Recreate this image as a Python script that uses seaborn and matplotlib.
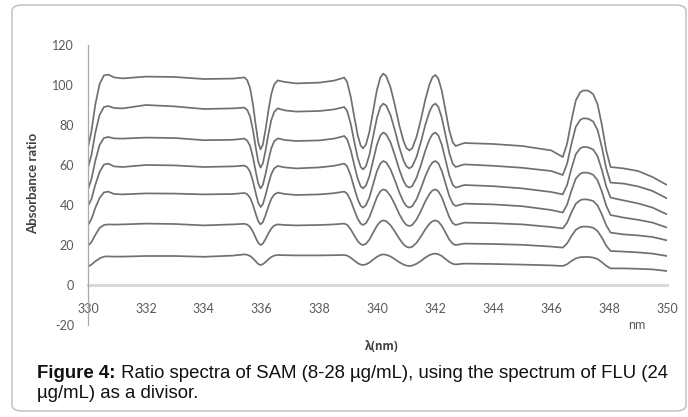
import numpy as np
import pandas as pd
import seaborn as sns
import matplotlib
matplotlib.use("Agg")
import matplotlib.pyplot as plt
from matplotlib.patches import FancyBboxPatch

# ---------------- data ----------------
wavelength = [
    330.0, 330.12, 330.25, 330.4, 330.55, 330.7, 330.9, 331.2, 332.0, 333.0, 334.0, 335.0, 335.4,
    335.5, 335.6, 335.7, 335.8, 335.88, 335.96, 336.04, 336.13, 336.23, 336.33, 336.43, 336.55,
    336.8, 337.2, 338.0, 338.5, 338.85,
    338.95, 339.08, 339.2, 339.32, 339.42, 339.5,
    339.6, 339.72, 339.85, 339.98, 340.1, 340.2,
    340.3, 340.45, 340.6, 340.75, 340.9, 341.0, 341.1,
    341.2, 341.35, 341.5, 341.65, 341.8, 341.9, 342.0,
    342.1, 342.22, 342.35, 342.48, 342.6, 342.7,
    343.0, 344.0, 345.0, 346.0, 346.4,
    346.55, 346.7, 346.85, 347.0, 347.1, 347.2, 347.3, 347.45, 347.6, 347.75, 347.9, 348.05,
    348.5, 349.0, 349.5, 350.0,
]

sam_28 = [
    68.7, 77, 90, 100.5, 104.8, 105.2, 103.8, 103.3, 104.2, 104.0, 103.0, 103.2, 103.8,
    102.4, 98.4, 90.1, 79.3, 71.4, 67.8, 70.2, 77.5, 87.1, 95.4, 100.2, 102.3,
    101.5, 100.8, 101.2, 102.2, 103.7,
    101.6, 93.8, 83.9, 74.7, 69.7, 68.3,
    70.2, 76.5, 87.0, 97.5, 103.8, 105.7,
    104.5, 98.8, 90.0, 80.0, 71.9, 68.5, 67.3,
    68.4, 74.1, 82.8, 92.6, 100.5, 103.9, 105.0,
    103.2, 97.2, 87.2, 77.3, 71.3, 69.5,
    71.0, 70.5, 69.5, 67.3, 64.0,
    70.7, 82.3, 92.3, 96.3, 97.2, 97.3, 97.0, 95.4, 90.4, 80.1, 67.4, 59.0,
    58.3, 57.0, 54.0, 50.0,
]
sam_25 = [
    58.7, 65, 76, 85, 89, 89.5, 88.5, 88.3, 90.0, 89.3, 88.0, 88.3, 88.7,
    87.5, 84.2, 77.3, 68.3, 61.7, 58.7, 60.8, 67.0, 75.3, 82.4, 86.5, 88.3,
    87.3, 86.7, 87.0, 87.8, 89.0,
    87.1, 80.3, 71.5, 63.4, 59.0, 57.8,
    59.4, 65.0, 74.3, 83.5, 89.1, 90.7,
    89.7, 84.9, 77.4, 69.0, 62.2, 59.3, 58.3,
    59.3, 64.1, 71.6, 80.0, 86.8, 89.7, 90.7,
    89.1, 83.7, 74.9, 66.0, 60.6, 59.0,
    60.3, 59.6, 58.6, 57.0, 55.0,
    60.7, 70.6, 79.1, 82.5, 83.3, 83.3, 83.0, 81.7, 77.6, 68.9, 58.3, 51.2,
    50.7, 49.3, 47.0, 43.3,
]
sam_21 = [
    47.8, 53, 62, 70, 73.5, 74.0, 73.3, 73.2, 73.7, 73.5, 72.4, 72.6, 73.2,
    72.2, 69.5, 63.7, 56.3, 50.8, 48.3, 50.1, 55.3, 62.3, 68.3, 71.8, 73.3,
    72.5, 72.0, 72.3, 73.2, 74.5,
    72.9, 67.2, 59.8, 53.0, 49.3, 48.3,
    49.7, 54.4, 62.3, 70.1, 74.8, 76.2,
    75.4, 71.3, 64.9, 57.8, 52.0, 49.5, 48.7,
    49.5, 53.7, 60.0, 67.1, 72.9, 75.4, 76.2,
    74.8, 70.2, 62.5, 54.8, 50.1, 48.7,
    50.0, 49.4, 48.3, 46.5, 45.3,
    50.0, 58.3, 65.4, 68.3, 69.0, 69.0, 68.7, 67.7, 64.4, 57.6, 49.3, 43.7,
    42.3, 40.8, 38.7, 35.3,
]
sam_18 = [
    39.5, 43, 50, 56.5, 60.2, 60.7, 59.3, 59.0, 60.0, 59.8, 59.0, 59.3, 59.7,
    58.9, 56.6, 51.8, 45.6, 41.1, 39.0, 40.4, 44.7, 50.5, 55.4, 58.3, 59.5,
    58.8, 58.3, 58.8, 59.6, 60.7,
    59.4, 54.5, 48.4, 42.7, 39.6, 38.7,
    39.9, 43.8, 50.4, 56.9, 60.8, 62.0,
    61.3, 57.8, 52.4, 46.4, 41.5, 39.4, 38.7,
    39.4, 42.9, 48.3, 54.3, 59.2, 61.3, 62.0,
    60.9, 57.1, 50.8, 44.5, 40.6, 39.5,
    40.7, 40.3, 39.4, 37.5, 36.2,
    40.2, 47.2, 53.2, 55.6, 56.2, 56.2, 56.0, 55.1, 52.4, 46.7, 39.7, 35.0,
    33.7, 32.6, 31.2, 28.7,
]
sam_14 = [
    29.8, 33, 38.5, 43.5, 46.3, 46.7, 45.5, 45.3, 45.8, 45.7, 45.3, 45.5, 46.0,
    45.4, 43.6, 40.0, 35.3, 31.9, 30.3, 31.4, 34.8, 39.2, 43.0, 45.2, 46.2,
    45.5, 45.0, 45.3, 45.9, 46.7,
    45.7, 42.0, 37.3, 33.0, 30.7, 30.0,
    30.9, 33.9, 38.9, 43.9, 46.9, 47.8,
    47.3, 44.5, 40.3, 35.5, 31.7, 30.0, 29.5,
    30.0, 32.8, 37.0, 41.8, 45.6, 47.3, 47.8,
    46.9, 43.9, 38.9, 33.9, 30.9, 30.0,
    31.2, 30.9, 30.3, 29.0, 28.3,
    31.2, 36.3, 40.6, 42.4, 42.8, 42.8, 42.6, 42.0, 39.8, 35.3, 29.9, 26.2,
    25.3, 24.8, 24.0, 22.3,
]
sam_11 = [
    19.5, 21.5, 25, 28.5, 30.0, 30.3, 30.2, 30.3, 30.7, 30.5, 29.8, 30.3, 30.6,
    30.2, 29.0, 26.6, 23.4, 21.1, 20.0, 20.7, 22.9, 25.8, 28.2, 29.7, 30.3,
    30.0, 29.8, 30.0, 30.3, 30.7,
    30.1, 27.7, 24.7, 21.9, 20.4, 20.0,
    20.6, 22.7, 26.2, 29.6, 31.7, 32.3,
    31.9, 29.9, 26.7, 23.2, 20.3, 19.1, 18.7,
    19.1, 21.1, 24.3, 27.8, 30.7, 31.9, 32.3,
    31.7, 29.6, 26.2, 22.7, 20.6, 20.0,
    20.7, 20.5, 20.1, 19.2, 18.7,
    20.8, 24.5, 27.6, 28.9, 29.2, 29.2, 29.1, 28.6, 27.0, 23.7, 19.7, 17.0,
    16.7, 16.3, 15.7, 14.5,
]
sam_8 = [
    9.2, 10.2, 11.8, 13.3, 14.2, 14.3, 14.2, 14.2, 14.5, 14.5, 14.1, 14.7, 15.3,
    15.1, 14.5, 13.3, 11.7, 10.5, 10.0, 10.4, 11.4, 12.8, 14.0, 14.7, 15.0,
    14.9, 14.8, 14.8, 14.9, 15.0,
    14.7, 13.6, 12.2, 10.9, 10.2, 10.0,
    10.3, 11.2, 12.7, 14.1, 15.0, 15.3,
    15.1, 14.3, 12.9, 11.4, 10.2, 9.7, 9.5,
    9.7, 10.6, 12.0, 13.7, 15.0, 15.5, 15.7,
    15.4, 14.5, 13.0, 11.5, 10.6, 10.3,
    10.7, 10.5, 10.2, 9.8, 9.5,
    10.4, 12.0, 13.3, 13.9, 14.0, 14.0, 14.0, 13.7, 13.0, 11.4, 9.6, 8.3,
    8.3, 8.1, 7.8, 7.0,
]

series = {"s1": sam_28, "s2": sam_25, "s3": sam_21, "s4": sam_18,
          "s5": sam_14, "s6": sam_11, "s7": sam_8}

x_ticks = [330, 332, 334, 336, 338, 340, 342, 344, 346, 348, 350]
y_ticks = [-20, 0, 20, 40, 60, 80, 100, 120]

caption_bold = "Figure 4:"
caption_rest1 = " Ratio spectra of SAM (8-28 \u00b5g/mL), using the spectrum of FLU (24"
caption_line2 = "\u00b5g/mL) as a divisor."

for k, v in series.items():
    assert len(v) == len(wavelength), (k, len(v), len(wavelength))

df = pd.concat(
    [pd.DataFrame({"nm": wavelength, "ratio": v, "series": k}) for k, v in series.items()],
    ignore_index=True,
)

# ---------------- figure ----------------
sns.set_theme(style="white")
plt.rcParams["font.family"] = ["Lato", "DejaVu Sans"]

W, H = 688, 417
fig = plt.figure(figsize=(W / 100, H / 100), dpi=100)

# rounded border around the whole figure
border = FancyBboxPatch((12 / W, 6 / H), (686 - 12) / W, (412 - 6) / H,
                        boxstyle="round,pad=0,rounding_size=0.015",
                        transform=fig.transFigure, fill=False,
                        edgecolor="#bdbdbd", linewidth=1.0)
fig.patches.append(border)

ax_left, ax_right = 88 / W, 667 / W
ax_top, ax_bottom = 45 / H, 325 / H
ax = fig.add_axes([ax_left, 1 - ax_bottom, ax_right - ax_left, ax_bottom - ax_top])

sns.lineplot(data=df, x="nm", y="ratio", units="series", estimator=None,
             color="#707070", linewidth=1.25, ax=ax, legend=False, sort=False)

ax.set_xlim(330, 350)
ax.set_ylim(-20, 120)
ax.set_xticks(x_ticks)
ax.set_yticks(y_ticks)
ax.set_xticklabels([str(t) for t in x_ticks])
ax.set_yticklabels([str(t) for t in y_ticks])
ax.set_xlabel("")
ax.set_ylabel("")
ax.grid(False)
ax.set_facecolor("none")

for s in ["top", "right"]:
    ax.spines[s].set_visible(False)
ax.spines["left"].set_color("#a8a8a8")
ax.spines["left"].set_linewidth(0.9)
ax.spines["bottom"].set_position(("data", 0))
ax.spines["bottom"].set_color("#d9d9d9")
ax.spines["bottom"].set_linewidth(2.2)
ax.spines["bottom"].set_zorder(0)

ax.tick_params(axis="both", length=0, colors="#595959", labelsize=9)
ax.tick_params(axis="x", pad=13)
ax.tick_params(axis="y", pad=10)

# axis titles
fig.text(33 / W, 1 - 183 / H, "Absorbance ratio", rotation=90, ha="center", va="center",
         fontsize=9.5, fontweight="bold", color="#404040")
fig.text(381 / W, 1 - 346 / H, "\u03bb(nm)", ha="center", va="center",
         fontsize=8.3, fontweight="bold", color="#404040",
         family=["Open Sans", "DejaVu Sans"])
fig.text(637 / W, 1 - 325 / H, "nm", ha="center", va="center",
         fontsize=9, color="#595959")

# caption
cap_font = ["Liberation Sans", "DejaVu Sans"]
cap_size = 13.4
t1 = fig.text(37 / W, 1 - 374 / H, caption_bold, ha="left", va="center",
              fontsize=cap_size, fontweight="bold", family=cap_font, color="#111111")
fig.canvas.draw()
bb = t1.get_window_extent(renderer=fig.canvas.get_renderer())
fig.text(bb.x1 / W, 1 - 374 / H, caption_rest1, ha="left", va="center",
         fontsize=cap_size, family=cap_font, color="#111111")
fig.text(37 / W, 1 - 394 / H, caption_line2, ha="left", va="center",
         fontsize=cap_size, family=cap_font, color="#111111")

fig.savefig("out.png", dpi=100)
